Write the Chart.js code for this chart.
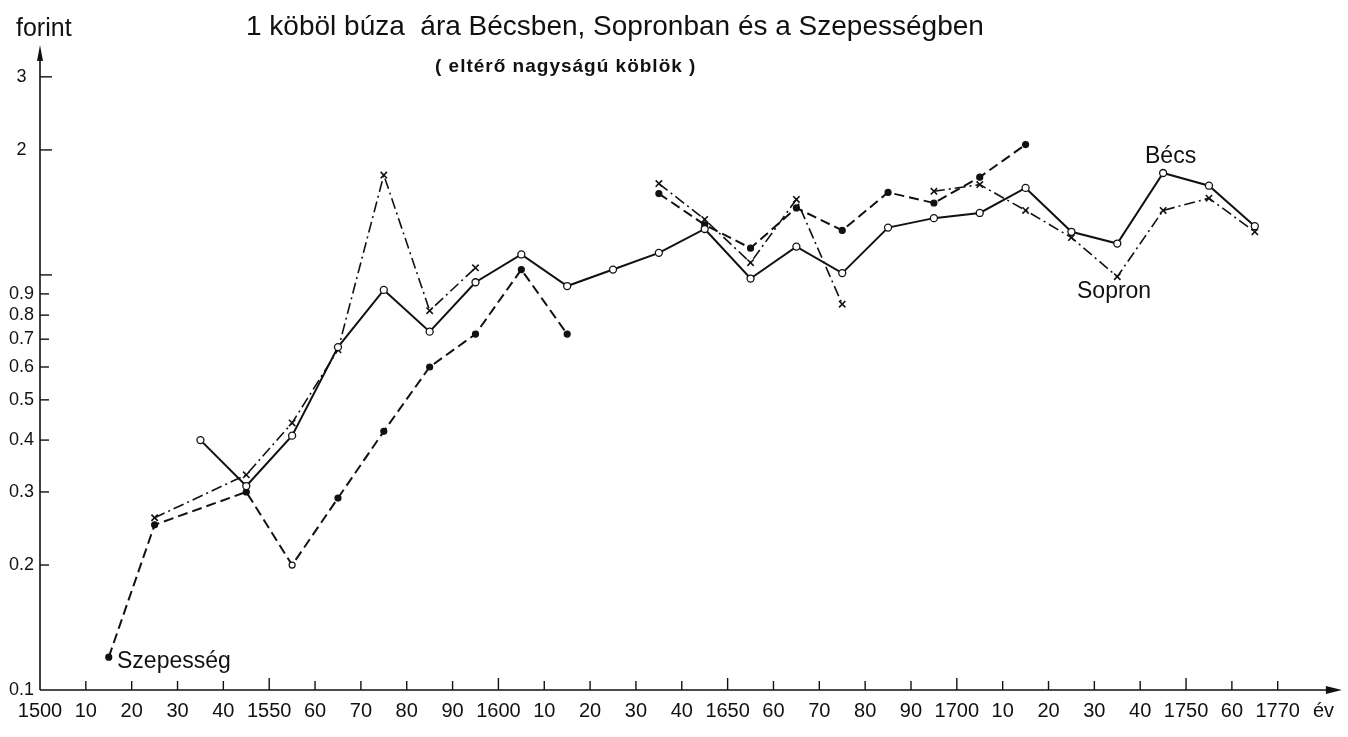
<!DOCTYPE html>
<html>
<head>
<meta charset="utf-8">
<script src="https://cdn.jsdelivr.net/npm/chart.js@4"></script>
<style>
  html, body { margin: 0; padding: 0; background: #fff; }
  #wrap { width: 1348px; height: 737px; position: relative; }
</style>
</head>
<body>
<div id="wrap"><canvas id="chart"></canvas></div>
<script>
// decade midpoints the prices are plotted at
const decades = [1515, 1525, 1535, 1545, 1555, 1565, 1575, 1585, 1595, 1605, 1615, 1625, 1635,
  1645, 1655, 1665, 1675, 1685, 1695, 1705, 1715, 1725, 1735, 1745, 1755, 1765];

// forint per köböl, null = no data (line breaks)
const becs = [null, null, 0.40, 0.31, 0.41, 0.67, 0.92, 0.73, 0.96, 1.12, 0.94, 1.03, 1.13,
  1.29, 0.98, 1.17, 1.01, 1.30, 1.37, 1.41, 1.62, 1.27, 1.19, 1.76, 1.64, 1.31];
const sopron = [null, 0.26, null, 0.33, 0.44, 0.66, 1.74, 0.82, 1.04, null, null, null, 1.66,
  1.36, 1.07, 1.52, 0.85, null, 1.59, 1.65, 1.43, 1.23, 0.99, 1.43, 1.53, 1.27];
const szepes = [0.12, 0.25, null, 0.30, 0.20, 0.29, 0.42, 0.60, 0.72, 1.03, 0.72, null, 1.57,
  1.32, 1.16, 1.45, 1.28, 1.58, 1.49, 1.72, 2.06, null, null, null, null, null];

// decades the original draws straight across (missing value, but no break)
const bridged = [1535];

const yTicks = [0.1, 0.2, 0.3, 0.4, 0.5, 0.6, 0.7, 0.8, 0.9, 1, 2, 3];
const xTicks = [1500, 1510, 1520, 1530, 1540, 1550, 1560, 1570, 1580, 1590, 1600, 1610, 1620,
  1630, 1640, 1650, 1660, 1670, 1680, 1690, 1700, 1710, 1720, 1730, 1740, 1750, 1760, 1770, 1780];

function points(values) {
  return decades
    .map((x, i) => ({ x: x, y: values[i] }))
    .filter((p) => !(p.y === null && bridged.includes(p.x)));
}

function yLabel(v) {
  if (v === 1) return "";
  if (v < 1) return v.toFixed(1);
  return String(v);
}

function xLabel(v) {
  if (v === 1780) return "év";
  if (v % 50 === 0 || v === 1770) return String(v);
  return String(v % 100);
}

const INK = "#111";

// axis lines with arrows, inward ticks, title and series names
const decorations = {
  id: "decorations",
  afterDraw(chart) {
    const ctx = chart.ctx;
    const a = chart.chartArea;
    const xs = chart.scales.x;
    const ys = chart.scales.y;
    ctx.save();
    ctx.strokeStyle = INK;
    ctx.fillStyle = INK;
    ctx.lineWidth = 1.6;

    // y axis
    ctx.beginPath();
    ctx.moveTo(a.left, a.bottom);
    ctx.lineTo(a.left, a.top + 4);
    ctx.stroke();
    ctx.beginPath();
    ctx.moveTo(a.left, a.top - 2);
    ctx.lineTo(a.left - 3, a.top + 14);
    ctx.lineTo(a.left + 3, a.top + 14);
    ctx.closePath();
    ctx.fill();

    // x axis
    ctx.beginPath();
    ctx.moveTo(a.left, a.bottom);
    ctx.lineTo(a.right - 4, a.bottom);
    ctx.stroke();
    ctx.beginPath();
    ctx.moveTo(a.right, a.bottom);
    ctx.lineTo(a.right - 16, a.bottom - 4);
    ctx.lineTo(a.right - 16, a.bottom + 4);
    ctx.closePath();
    ctx.fill();

    // ticks
    ctx.lineWidth = 1.4;
    yTicks.forEach((v) => {
      if (v === 0.1) return;
      const y = ys.getPixelForValue(v);
      const len = v >= 1 ? 12 : 9;
      ctx.beginPath();
      ctx.moveTo(a.left, y);
      ctx.lineTo(a.left + len, y);
      ctx.stroke();
    });
    xTicks.forEach((v) => {
      if (v === 1500 || v === 1780) return;
      const x = xs.getPixelForValue(v);
      const len = v % 50 === 0 ? 12 : 9;
      ctx.beginPath();
      ctx.moveTo(x, a.bottom);
      ctx.lineTo(x, a.bottom - len);
      ctx.stroke();
    });

    // texts
    ctx.textBaseline = "middle";
    ctx.textAlign = "left";
    ctx.font = "25px 'Liberation Sans'";
    ctx.fillText("forint", 16, 29);
    ctx.font = "28px 'Liberation Sans'";
    ctx.fillText("1 köböl búza  ára Bécsben, Sopronban és a Szepességben", 246, 27);
    ctx.font = "bold 19px 'Liberation Sans'";
    ctx.letterSpacing = "1px";
    ctx.fillText("( eltérő nagyságú köblök )", 435, 67);
    ctx.letterSpacing = "0px";
    ctx.font = "23px 'Liberation Sans'";
    ctx.fillText("Bécs", 1145, 157);
    ctx.fillText("Sopron", 1077, 292);
    ctx.fillText("Szepesség", 117, 662);
    ctx.restore();
  },
};

new Chart(document.getElementById("chart"), {
  type: "line",
  data: {
    datasets: [
      {
        label: "Bécs",
        data: points(becs),
        borderColor: INK,
        borderWidth: 2,
        pointStyle: "circle",
        pointRadius: 3.5,
        pointBorderWidth: 1.3,
        pointBackgroundColor: "#fff",
        pointBorderColor: INK,
      },
      {
        label: "Sopron",
        data: points(sopron),
        borderColor: INK,
        borderWidth: 1.6,
        borderDash: [11, 4, 2, 4],
        pointStyle: "crossRot",
        pointRadius: 4.5,
        pointBorderWidth: 1.6,
        pointBorderColor: INK,
      },
      {
        label: "Szepesség",
        data: points(szepes),
        borderColor: INK,
        borderWidth: 2,
        borderDash: [10, 5],
        pointStyle: "circle",
        pointRadius: 3,
        pointBorderWidth: 1.2,
        pointBorderColor: INK,
        pointBackgroundColor: (c) => (c.raw && c.raw.x === 1555 ? "#fff" : INK),
      },
    ],
  },
  options: {
    responsive: true,
    maintainAspectRatio: false,
    animation: false,
    spanGaps: false,
    layout: { padding: { top: 47, right: 1, left: 0, bottom: 0 } },
    plugins: {
      legend: { display: false },
      tooltip: { enabled: false },
    },
    elements: { line: { tension: 0 } },
    scales: {
      x: {
        type: "linear",
        min: 1500,
        max: 1784,
        grid: { display: false, drawTicks: false },
        border: { display: false },
        afterBuildTicks: (s) => { s.ticks = xTicks.map((v) => ({ value: v })); },
        afterFit: (s) => { s.height = 47; },
        ticks: {
          autoSkip: false,
          maxRotation: 0,
          padding: 9,
          color: INK,
          font: { family: "'Liberation Sans'", size: 20 },
          callback: (v) => xLabel(v),
        },
      },
      y: {
        type: "logarithmic",
        min: 0.1,
        max: 3.54,
        grid: { display: false, drawTicks: false },
        border: { display: false },
        afterBuildTicks: (s) => { s.ticks = yTicks.map((v) => ({ value: v })); },
        afterFit: (s) => { s.width = 40; },
        ticks: {
          autoSkip: false,
          padding: 6,
          crossAlign: "center",
          color: INK,
          font: { family: "'Liberation Sans'", size: 18 },
          callback: (v) => yLabel(v),
        },
      },
    },
  },
  plugins: [decorations],
});
</script>
</body>
</html>
